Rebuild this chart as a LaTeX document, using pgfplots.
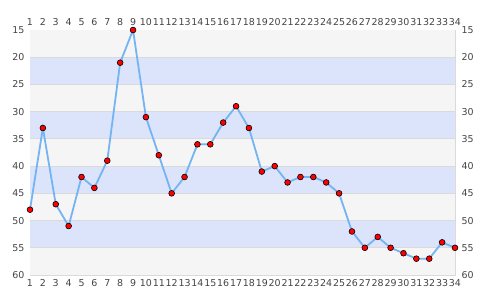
\documentclass[border=0pt]{standalone}
\usepackage{pgfplots}
\pgfplotsset{compat=1.18}
\usepackage{fontspec}
\setmainfont{DejaVu Sans}
\definecolor{bandgray}{HTML}{F5F5F5}
\definecolor{bandblue}{HTML}{DCE4FC}
\definecolor{gridc}{HTML}{DADADA}
\definecolor{linec}{HTML}{74B4F2}
\definecolor{labc}{HTML}{444444}
\pgfplotsset{
  base/.style={
    scale only axis, width=425bp, height=245bp,
    xmin=1, xmax=34, ymin=15, ymax=60, y dir=reverse,
    xtick={1,...,34}, ytick={15,20,...,60},
    major tick length=0,
    tick label style={font=\fontsize{9.5}{11}\selectfont, text=labc},
    /pgf/number format/assume math mode=true,
    axis line style={gridc},
    clip=false,
  }
}
\begin{document}
\begin{tikzpicture}
\useasboundingbox (0,0) rectangle (485bp,300bp);
\begin{axis}[base, at={(30bp,25bp)}, anchor=south west,
  xticklabel pos=lower, yticklabel pos=left,
  xticklabel style={yshift=-1bp}, yticklabel style={xshift=-2bp}]
  \fill[bandgray] (axis cs:1,15) rectangle (axis cs:34,60);
  \fill[bandblue] (axis cs:1,20) rectangle (axis cs:34,25);
  \fill[bandblue] (axis cs:1,30) rectangle (axis cs:34,35);
  \fill[bandblue] (axis cs:1,40) rectangle (axis cs:34,45);
  \fill[bandblue] (axis cs:1,50) rectangle (axis cs:34,55);
  \pgfplotsinvokeforeach{20,25,30,35,40,45,50,55}{
    \draw[gridc, line width=0.8bp] (axis cs:1,#1) -- (axis cs:34,#1);
  }
  \addplot[linec, line width=1.8bp, mark=*, mark size=2.9bp,
    mark options={fill=red, draw=black, line width=0.6bp}] coordinates {
    (1,48) (2,33) (3,47) (4,51) (5,42) (6,44) (7,39) (8,21) (9,15) (10,31)
    (11,38) (12,45) (13,42) (14,36) (15,36) (16,32) (17,29) (18,33) (19,41) (20,40)
    (21,43) (22,42) (23,42) (24,43) (25,45) (26,52) (27,55) (28,53) (29,55) (30,56)
    (31,57) (32,57) (33,54) (34,55)};
\end{axis}
\begin{axis}[base, at={(30bp,25bp)}, anchor=south west,
  xticklabel pos=upper, yticklabel pos=right,
  xticklabel style={yshift=1bp}, yticklabel style={xshift=3bp},
  axis line style={draw=none}]
  \addplot[draw=none] coordinates {(1,15)};
\end{axis}
\end{tikzpicture}
\end{document}
